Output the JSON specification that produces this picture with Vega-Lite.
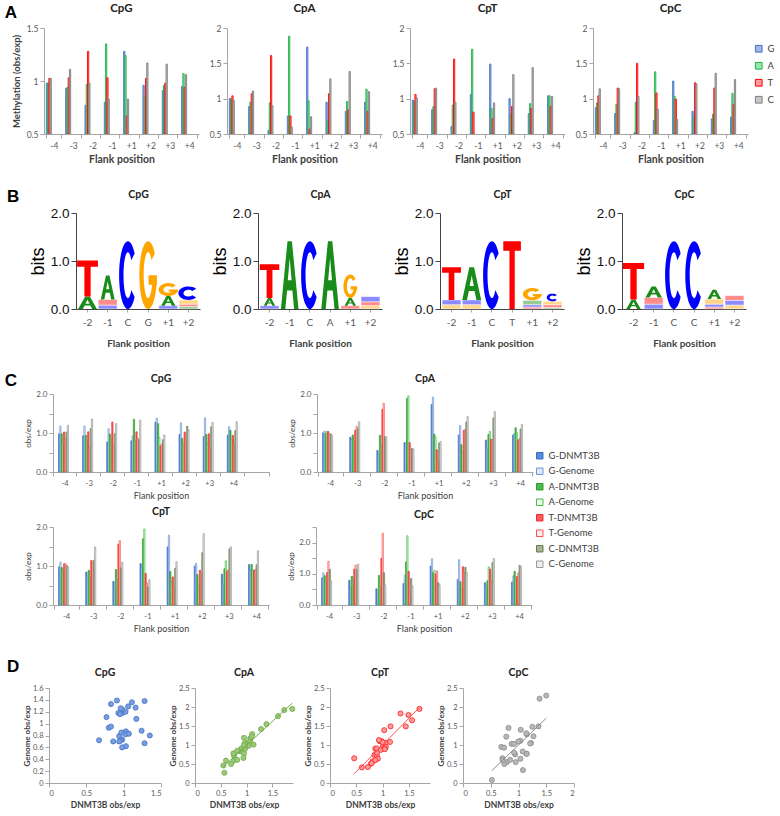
{
"$schema": "https://vega.github.io/schema/vega-lite/v6.json",
"background": "white",
"padding": {"left": 4, "top": 2, "right": 0, "bottom": 0},
"datasets": {
"flank": [
{"dn":"CpG","pos":"-4","base":"G","dnmt":0.98,"genome":1.18},{"dn":"CpG","pos":"-4","base":"A","dnmt":0.98,"genome":0.73},{"dn":"CpG","pos":"-4","base":"T","dnmt":1.025,"genome":0.85},{"dn":"CpG","pos":"-4","base":"C","dnmt":1.025,"genome":1.20},
{"dn":"CpG","pos":"-3","base":"G","dnmt":0.93,"genome":1.18},{"dn":"CpG","pos":"-3","base":"A","dnmt":0.94,"genome":0.79},{"dn":"CpG","pos":"-3","base":"T","dnmt":1.03,"genome":0.62},{"dn":"CpG","pos":"-3","base":"C","dnmt":1.11,"genome":1.36},
{"dn":"CpG","pos":"-2","base":"G","dnmt":0.77,"genome":1.11},{"dn":"CpG","pos":"-2","base":"A","dnmt":0.97,"genome":0.85},{"dn":"CpG","pos":"-2","base":"T","dnmt":1.28,"genome":0.67},{"dn":"CpG","pos":"-2","base":"C","dnmt":0.98,"genome":1.24},
{"dn":"CpG","pos":"-1","base":"G","dnmt":0.80,"genome":0.93},{"dn":"CpG","pos":"-1","base":"A","dnmt":1.35,"genome":0.80},{"dn":"CpG","pos":"-1","base":"T","dnmt":1.03,"genome":0.87},{"dn":"CpG","pos":"-1","base":"C","dnmt":0.83,"genome":1.33},
{"dn":"CpG","pos":"+1","base":"G","dnmt":1.28,"genome":1.38},{"dn":"CpG","pos":"+1","base":"A","dnmt":1.24,"genome":0.88},{"dn":"CpG","pos":"+1","base":"T","dnmt":0.67,"genome":0.72},{"dn":"CpG","pos":"+1","base":"C","dnmt":0.83,"genome":0.95},
{"dn":"CpG","pos":"+2","base":"G","dnmt":0.96,"genome":1.26},{"dn":"CpG","pos":"+2","base":"A","dnmt":0.86,"genome":0.70},{"dn":"CpG","pos":"+2","base":"T","dnmt":1.025,"genome":0.82},{"dn":"CpG","pos":"+2","base":"C","dnmt":1.17,"genome":1.08},
{"dn":"CpG","pos":"+3","base":"G","dnmt":0.91,"genome":1.39},{"dn":"CpG","pos":"+3","base":"A","dnmt":0.96,"genome":0.72},{"dn":"CpG","pos":"+3","base":"T","dnmt":0.98,"genome":0.60},{"dn":"CpG","pos":"+3","base":"C","dnmt":1.16,"genome":1.27},
{"dn":"CpG","pos":"+4","base":"G","dnmt":0.95,"genome":1.16},{"dn":"CpG","pos":"+4","base":"A","dnmt":1.07,"genome":0.83},{"dn":"CpG","pos":"+4","base":"T","dnmt":0.94,"genome":0.70},{"dn":"CpG","pos":"+4","base":"C","dnmt":1.06,"genome":1.29},
{"dn":"CpA","pos":"-4","base":"G","dnmt":1.005,"genome":1.05},{"dn":"CpA","pos":"-4","base":"A","dnmt":0.99,"genome":1.04},{"dn":"CpA","pos":"-4","base":"T","dnmt":1.04,"genome":0.98},{"dn":"CpA","pos":"-4","base":"C","dnmt":0.975,"genome":0.93},
{"dn":"CpA","pos":"-3","base":"G","dnmt":0.89,"genome":0.83},{"dn":"CpA","pos":"-3","base":"A","dnmt":0.95,"genome":0.78},{"dn":"CpA","pos":"-3","base":"T","dnmt":1.07,"genome":1.17},{"dn":"CpA","pos":"-3","base":"C","dnmt":1.11,"genome":1.29},
{"dn":"CpA","pos":"-2","base":"G","dnmt":0.55,"genome":0.46},{"dn":"CpA","pos":"-2","base":"A","dnmt":0.94,"genome":0.66},{"dn":"CpA","pos":"-2","base":"T","dnmt":1.61,"genome":1.76},{"dn":"CpA","pos":"-2","base":"C","dnmt":0.90,"genome":0.91},
{"dn":"CpA","pos":"-1","base":"G","dnmt":0.755,"genome":0.72},{"dn":"CpA","pos":"-1","base":"A","dnmt":1.885,"genome":1.95},{"dn":"CpA","pos":"-1","base":"T","dnmt":0.755,"genome":0.59},{"dn":"CpA","pos":"-1","base":"C","dnmt":0.60,"genome":0.59},
{"dn":"CpA","pos":"+1","base":"G","dnmt":1.73,"genome":1.92},{"dn":"CpA","pos":"+1","base":"A","dnmt":0.97,"genome":0.90},{"dn":"CpA","pos":"+1","base":"T","dnmt":0.57,"genome":0.27},{"dn":"CpA","pos":"+1","base":"C","dnmt":0.745,"genome":0.78},
{"dn":"CpA","pos":"+2","base":"G","dnmt":0.95,"genome":1.19},{"dn":"CpA","pos":"+2","base":"A","dnmt":0.70,"genome":0.50},{"dn":"CpA","pos":"+2","base":"T","dnmt":1.07,"genome":1.09},{"dn":"CpA","pos":"+2","base":"C","dnmt":1.28,"genome":1.42},
{"dn":"CpA","pos":"+3","base":"G","dnmt":0.82,"genome":0.61},{"dn":"CpA","pos":"+3","base":"A","dnmt":0.96,"genome":1.04},{"dn":"CpA","pos":"+3","base":"T","dnmt":0.84,"genome":0.84},{"dn":"CpA","pos":"+3","base":"C","dnmt":1.385,"genome":1.55},
{"dn":"CpA","pos":"+4","base":"G","dnmt":0.95,"genome":0.99},{"dn":"CpA","pos":"+4","base":"A","dnmt":1.135,"genome":1.01},{"dn":"CpA","pos":"+4","base":"T","dnmt":0.82,"genome":0.85},{"dn":"CpA","pos":"+4","base":"C","dnmt":1.10,"genome":1.22},
{"dn":"CpT","pos":"-4","base":"G","dnmt":0.98,"genome":1.10},{"dn":"CpT","pos":"-4","base":"A","dnmt":0.96,"genome":0.87},{"dn":"CpT","pos":"-4","base":"T","dnmt":1.06,"genome":1.06},{"dn":"CpT","pos":"-4","base":"C","dnmt":1.01,"genome":0.98},
{"dn":"CpT","pos":"-3","base":"G","dnmt":0.845,"genome":0.74},{"dn":"CpT","pos":"-3","base":"A","dnmt":0.89,"genome":0.73},{"dn":"CpT","pos":"-3","base":"T","dnmt":1.14,"genome":1.08},{"dn":"CpT","pos":"-3","base":"C","dnmt":1.15,"genome":1.49},
{"dn":"CpT","pos":"-2","base":"G","dnmt":0.605,"genome":0.41},{"dn":"CpT","pos":"-2","base":"A","dnmt":0.91,"genome":0.64},{"dn":"CpT","pos":"-2","base":"T","dnmt":1.56,"genome":1.65},{"dn":"CpT","pos":"-2","base":"C","dnmt":0.95,"genome":1.10},
{"dn":"CpT","pos":"-1","base":"G","dnmt":1.06,"genome":0.95},{"dn":"CpT","pos":"-1","base":"A","dnmt":1.70,"genome":1.95},{"dn":"CpT","pos":"-1","base":"T","dnmt":0.81,"genome":0.57},{"dn":"CpT","pos":"-1","base":"C","dnmt":0.46,"genome":0.65},
{"dn":"CpT","pos":"+1","base":"G","dnmt":1.49,"genome":1.79},{"dn":"CpT","pos":"+1","base":"A","dnmt":0.86,"genome":0.60},{"dn":"CpT","pos":"+1","base":"T","dnmt":0.72,"genome":0.42},{"dn":"CpT","pos":"+1","base":"C","dnmt":0.94,"genome":1.11},
{"dn":"CpT","pos":"+2","base":"G","dnmt":1.00,"genome":1.07},{"dn":"CpT","pos":"+2","base":"A","dnmt":0.78,"genome":0.51},{"dn":"CpT","pos":"+2","base":"T","dnmt":0.89,"genome":0.80},{"dn":"CpT","pos":"+2","base":"C","dnmt":1.34,"genome":1.83},
{"dn":"CpT","pos":"+3","base":"G","dnmt":0.79,"genome":0.52},{"dn":"CpT","pos":"+3","base":"A","dnmt":0.93,"genome":1.13},{"dn":"CpT","pos":"+3","base":"T","dnmt":0.86,"genome":0.905},{"dn":"CpT","pos":"+3","base":"C","dnmt":1.44,"genome":1.49},
{"dn":"CpT","pos":"+4","base":"G","dnmt":1.04,"genome":0.90},{"dn":"CpT","pos":"+4","base":"A","dnmt":1.04,"genome":0.89},{"dn":"CpT","pos":"+4","base":"T","dnmt":0.89,"genome":0.91},{"dn":"CpT","pos":"+4","base":"C","dnmt":1.03,"genome":1.39},
{"dn":"CpC","pos":"-4","base":"G","dnmt":0.875,"genome":1.03},{"dn":"CpC","pos":"-4","base":"A","dnmt":0.94,"genome":0.75},{"dn":"CpC","pos":"-4","base":"T","dnmt":1.04,"genome":1.40},{"dn":"CpC","pos":"-4","base":"C","dnmt":1.14,"genome":0.77},
{"dn":"CpC","pos":"-3","base":"G","dnmt":0.79,"genome":0.55},{"dn":"CpC","pos":"-3","base":"A","dnmt":0.92,"genome":0.80},{"dn":"CpC","pos":"-3","base":"T","dnmt":1.15,"genome":1.28},{"dn":"CpC","pos":"-3","base":"C","dnmt":1.14,"genome":1.31},
{"dn":"CpC","pos":"-2","base":"G","dnmt":0.52,"genome":0.08},{"dn":"CpC","pos":"-2","base":"A","dnmt":0.95,"genome":0.55},{"dn":"CpC","pos":"-2","base":"T","dnmt":1.50,"genome":2.30},{"dn":"CpC","pos":"-2","base":"C","dnmt":1.035,"genome":0.64},
{"dn":"CpC","pos":"-1","base":"G","dnmt":0.69,"genome":0.95},{"dn":"CpC","pos":"-1","base":"A","dnmt":1.38,"genome":2.22},{"dn":"CpC","pos":"-1","base":"T","dnmt":1.08,"genome":0.34},{"dn":"CpC","pos":"-1","base":"C","dnmt":0.85,"genome":0.61},
{"dn":"CpC","pos":"+1","base":"G","dnmt":1.25,"genome":1.48},{"dn":"CpC","pos":"+1","base":"A","dnmt":1.035,"genome":1.11},{"dn":"CpC","pos":"+1","base":"T","dnmt":0.995,"genome":1.09},{"dn":"CpC","pos":"+1","base":"C","dnmt":0.71,"genome":0.65},
{"dn":"CpC","pos":"+2","base":"G","dnmt":0.82,"genome":1.45},{"dn":"CpC","pos":"+2","base":"A","dnmt":0.745,"genome":0.50},{"dn":"CpC","pos":"+2","base":"T","dnmt":1.225,"genome":1.05},{"dn":"CpC","pos":"+2","base":"C","dnmt":1.21,"genome":1.04},
{"dn":"CpC","pos":"+3","base":"G","dnmt":0.715,"genome":0.60},{"dn":"CpC","pos":"+3","base":"A","dnmt":0.78,"genome":1.22},{"dn":"CpC","pos":"+3","base":"T","dnmt":1.15,"genome":0.77},{"dn":"CpC","pos":"+3","base":"C","dnmt":1.36,"genome":1.49},
{"dn":"CpC","pos":"+4","base":"G","dnmt":0.74,"genome":0.93},{"dn":"CpC","pos":"+4","base":"A","dnmt":1.075,"genome":0.83},{"dn":"CpC","pos":"+4","base":"T","dnmt":0.92,"genome":1.03},{"dn":"CpC","pos":"+4","base":"C","dnmt":1.27,"genome":1.23}
],
"logo": [
{"dn":"CpG","col":1,"letter":"A","bits":0.26},{"dn":"CpG","col":1,"letter":"T","bits":0.75},
{"dn":"CpG","col":2,"letter":"C","bits":0.08},{"dn":"CpG","col":2,"letter":"T","bits":0.12},{"dn":"CpG","col":2,"letter":"A","bits":0.5},
{"dn":"CpG","col":3,"letter":"C","bits":1.41},{"dn":"CpG","col":4,"letter":"G","bits":1.41},
{"dn":"CpG","col":5,"letter":"C","bits":0.07},{"dn":"CpG","col":5,"letter":"A","bits":0.2},{"dn":"CpG","col":5,"letter":"G","bits":0.27},
{"dn":"CpG","col":6,"letter":"T","bits":0.05},{"dn":"CpG","col":6,"letter":"A","bits":0.05},{"dn":"CpG","col":6,"letter":"G","bits":0.09},{"dn":"CpG","col":6,"letter":"C","bits":0.28},
{"dn":"CpA","col":1,"letter":"C","bits":0.07},{"dn":"CpA","col":1,"letter":"A","bits":0.16},{"dn":"CpA","col":1,"letter":"T","bits":0.7},
{"dn":"CpA","col":2,"letter":"A","bits":1.41},{"dn":"CpA","col":3,"letter":"C","bits":1.41},{"dn":"CpA","col":4,"letter":"A","bits":1.41},
{"dn":"CpA","col":5,"letter":"T","bits":0.07},{"dn":"CpA","col":5,"letter":"A","bits":0.16},{"dn":"CpA","col":5,"letter":"G","bits":0.49},
{"dn":"CpA","col":6,"letter":"G","bits":0.07},{"dn":"CpA","col":6,"letter":"T","bits":0.08},{"dn":"CpA","col":6,"letter":"C","bits":0.11},
{"dn":"CpT","col":1,"letter":"G","bits":0.09},{"dn":"CpT","col":1,"letter":"C","bits":0.1},{"dn":"CpT","col":1,"letter":"T","bits":0.68},
{"dn":"CpT","col":2,"letter":"G","bits":0.09},{"dn":"CpT","col":2,"letter":"C","bits":0.1},{"dn":"CpT","col":2,"letter":"A","bits":0.68},
{"dn":"CpT","col":3,"letter":"C","bits":1.41},{"dn":"CpT","col":4,"letter":"T","bits":1.41},
{"dn":"CpT","col":5,"letter":"T","bits":0.04},{"dn":"CpT","col":5,"letter":"C","bits":0.05},{"dn":"CpT","col":5,"letter":"A","bits":0.09},{"dn":"CpT","col":5,"letter":"G","bits":0.26},
{"dn":"CpT","col":6,"letter":"A","bits":0.03},{"dn":"CpT","col":6,"letter":"T","bits":0.06},{"dn":"CpT","col":6,"letter":"G","bits":0.07},{"dn":"CpT","col":6,"letter":"C","bits":0.16},
{"dn":"CpC","col":1,"letter":"A","bits":0.2},{"dn":"CpC","col":1,"letter":"T","bits":0.76},
{"dn":"CpC","col":2,"letter":"C","bits":0.1},{"dn":"CpC","col":2,"letter":"T","bits":0.14},{"dn":"CpC","col":2,"letter":"A","bits":0.23},
{"dn":"CpC","col":3,"letter":"C","bits":1.41},{"dn":"CpC","col":4,"letter":"C","bits":1.41},
{"dn":"CpC","col":5,"letter":"T","bits":0.04},{"dn":"CpC","col":5,"letter":"C","bits":0.06},{"dn":"CpC","col":5,"letter":"G","bits":0.11},{"dn":"CpC","col":5,"letter":"A","bits":0.19},
{"dn":"CpC","col":6,"letter":"G","bits":0.08},{"dn":"CpC","col":6,"letter":"C","bits":0.1},{"dn":"CpC","col":6,"letter":"T","bits":0.1}
],
"blank": [{"s": 1}]
},
"config": {
"font": "Lato",
"view": {"stroke": null},
"axis": {"grid": false, "domainColor": "#a6a6a6", "tickColor": "#a6a6a6", "labelColor": "#595959", "titleColor": "#404040", "labelFontSize": 8, "titleFontSize": 9, "tickSize": 4, "labelPadding": 2, "titlePadding": 4, "labelFont": "Lato", "titleFont": "Lato"},
"title": {"fontSize": 11, "fontWeight": "bold", "color": "#222222", "offset": 6, "font": "Lato"},
"legend": {"labelFont": "Lato", "labelFontSize": 9, "labelColor": "#404040"}
},
"spacing": 23,
"resolve": {"scale": {"fill": "independent", "stroke": "independent", "shape": "independent", "size": "independent"}},
"vconcat": [
{
"data": {"name": "flank"},
"title": {"text": "A", "anchor": "start", "frame": "bounds", "fontSize": 17, "font": "Liberation Sans", "fontWeight": "bold", "color": "#000000", "offset": -19},
"spacing": 0,
"hconcat": [
{"width": 1, "height": 10, "data": {"name": "blank"}, "mark": {"type": "point", "opacity": 0}, "encoding": {}},
{"spacing": 10, "hconcat": [
{"width": 155, "height": 106, "title": {"text": "CpG", "fontSize": 11.5, "offset": 10},
"transform": [{"filter": "datum.dn === 'CpG'"}],
"mark": {"type": "bar", "clip": true, "strokeWidth": 0.9},
"encoding": {
"x": {"field": "pos", "type": "nominal", "scale": {"domain": ["-4","-3","-2","-1","+1","+2","+3","+4"], "paddingInner": 0.22, "paddingOuter": 0.12}, "axis": {"title": "Flank position", "labelAngle": 0, "tickBand": "extent", "labelFontSize": 8.5, "titleFontSize": 10.5, "titleFontWeight": "bold", "titlePadding": 5, "labelPadding": 3}},
"xOffset": {"field": "base", "type": "nominal", "scale": {"domain": ["G","A","T","C"], "paddingInner": 0}},
"y": {"field": "dnmt", "type": "quantitative", "scale": {"domain": [0.5, 1.5], "nice": false, "zero": false}, "axis": {"values": [0.5, 1, 1.5], "format": "~g", "title": "Methylation (obs/exp)", "titleFontSize": 9.5, "titleFontWeight": "bold", "titlePadding": 5, "labelFontSize": 8.5}},
"y2": {"datum": 0.5},
"fill": {"field": "base", "type": "nominal", "scale": {"domain": ["G","A","T","C"], "range": ["#9db8e8","#9be6ad","#ff9c9c","#c8c8c8"]}, "legend": {"title": " ", "titleFontSize": 8, "titlePadding": 8, "symbolType": "square", "symbolSize": 45, "labelFontSize": 9.5, "rowPadding": 5, "offset": 6, "symbolStrokeWidth": 1}},
"stroke": {"field": "base", "type": "nominal", "scale": {"domain": ["G","A","T","C"], "range": ["#4472c4","#1fb04a","#ff0000","#7f7f7f"]}, "legend": {"title": " ", "titleFontSize": 8, "titlePadding": 8, "symbolType": "square", "symbolSize": 45, "labelFontSize": 9.5, "rowPadding": 5, "offset": 6, "symbolStrokeWidth": 1}}
}},
{"width": 155, "height": 106, "title": {"text": "CpA", "fontSize": 11.5, "offset": 10},
"transform": [{"filter": "datum.dn === 'CpA'"}],
"mark": {"type": "bar", "clip": true, "strokeWidth": 0.9},
"encoding": {
"x": {"field": "pos", "type": "nominal", "scale": {"domain": ["-4","-3","-2","-1","+1","+2","+3","+4"], "paddingInner": 0.22, "paddingOuter": 0.12}, "axis": {"title": "Flank position", "labelAngle": 0, "tickBand": "extent", "labelFontSize": 8.5, "titleFontSize": 10.5, "titleFontWeight": "bold", "titlePadding": 5, "labelPadding": 3}},
"xOffset": {"field": "base", "type": "nominal", "scale": {"domain": ["G","A","T","C"], "paddingInner": 0}},
"y": {"field": "dnmt", "type": "quantitative", "scale": {"domain": [0.5, 2], "nice": false, "zero": false}, "axis": {"values": [0.5, 1, 1.5, 2], "format": "~g", "title": null, "labelFontSize": 8.5}},
"y2": {"datum": 0.5},
"fill": {"field": "base", "type": "nominal", "scale": {"domain": ["G","A","T","C"], "range": ["#9db8e8","#9be6ad","#ff9c9c","#c8c8c8"]}, "legend": {"title": " ", "titleFontSize": 8, "titlePadding": 8, "symbolType": "square", "symbolSize": 45, "labelFontSize": 9.5, "rowPadding": 5, "offset": 6, "symbolStrokeWidth": 1}},
"stroke": {"field": "base", "type": "nominal", "scale": {"domain": ["G","A","T","C"], "range": ["#4472c4","#1fb04a","#ff0000","#7f7f7f"]}, "legend": {"title": " ", "titleFontSize": 8, "titlePadding": 8, "symbolType": "square", "symbolSize": 45, "labelFontSize": 9.5, "rowPadding": 5, "offset": 6, "symbolStrokeWidth": 1}}
}},
{"width": 155, "height": 106, "title": {"text": "CpT", "fontSize": 11.5, "offset": 10},
"transform": [{"filter": "datum.dn === 'CpT'"}],
"mark": {"type": "bar", "clip": true, "strokeWidth": 0.9},
"encoding": {
"x": {"field": "pos", "type": "nominal", "scale": {"domain": ["-4","-3","-2","-1","+1","+2","+3","+4"], "paddingInner": 0.22, "paddingOuter": 0.12}, "axis": {"title": "Flank position", "labelAngle": 0, "tickBand": "extent", "labelFontSize": 8.5, "titleFontSize": 10.5, "titleFontWeight": "bold", "titlePadding": 5, "labelPadding": 3}},
"xOffset": {"field": "base", "type": "nominal", "scale": {"domain": ["G","A","T","C"], "paddingInner": 0}},
"y": {"field": "dnmt", "type": "quantitative", "scale": {"domain": [0.5, 2], "nice": false, "zero": false}, "axis": {"values": [0.5, 1, 1.5, 2], "format": "~g", "title": null, "labelFontSize": 8.5}},
"y2": {"datum": 0.5},
"fill": {"field": "base", "type": "nominal", "scale": {"domain": ["G","A","T","C"], "range": ["#9db8e8","#9be6ad","#ff9c9c","#c8c8c8"]}, "legend": {"title": " ", "titleFontSize": 8, "titlePadding": 8, "symbolType": "square", "symbolSize": 45, "labelFontSize": 9.5, "rowPadding": 5, "offset": 6, "symbolStrokeWidth": 1}},
"stroke": {"field": "base", "type": "nominal", "scale": {"domain": ["G","A","T","C"], "range": ["#4472c4","#1fb04a","#ff0000","#7f7f7f"]}, "legend": {"title": " ", "titleFontSize": 8, "titlePadding": 8, "symbolType": "square", "symbolSize": 45, "labelFontSize": 9.5, "rowPadding": 5, "offset": 6, "symbolStrokeWidth": 1}}
}},
{"width": 155, "height": 106, "title": {"text": "CpC", "fontSize": 11.5, "offset": 10},
"transform": [{"filter": "datum.dn === 'CpC'"}],
"mark": {"type": "bar", "clip": true, "strokeWidth": 0.9},
"encoding": {
"x": {"field": "pos", "type": "nominal", "scale": {"domain": ["-4","-3","-2","-1","+1","+2","+3","+4"], "paddingInner": 0.22, "paddingOuter": 0.12}, "axis": {"title": "Flank position", "labelAngle": 0, "tickBand": "extent", "labelFontSize": 8.5, "titleFontSize": 10.5, "titleFontWeight": "bold", "titlePadding": 5, "labelPadding": 3}},
"xOffset": {"field": "base", "type": "nominal", "scale": {"domain": ["G","A","T","C"], "paddingInner": 0}},
"y": {"field": "dnmt", "type": "quantitative", "scale": {"domain": [0.5, 2], "nice": false, "zero": false}, "axis": {"values": [0.5, 1, 1.5, 2], "format": "~g", "title": null, "labelFontSize": 8.5}},
"y2": {"datum": 0.5},
"fill": {"field": "base", "type": "nominal", "scale": {"domain": ["G","A","T","C"], "range": ["#9db8e8","#9be6ad","#ff9c9c","#c8c8c8"]}, "legend": {"title": " ", "titleFontSize": 8, "titlePadding": 8, "symbolType": "square", "symbolSize": 45, "labelFontSize": 9.5, "rowPadding": 5, "offset": 6, "symbolStrokeWidth": 1}},
"stroke": {"field": "base", "type": "nominal", "scale": {"domain": ["G","A","T","C"], "range": ["#4472c4","#1fb04a","#ff0000","#7f7f7f"]}, "legend": {"title": " ", "titleFontSize": 8, "titlePadding": 8, "symbolType": "square", "symbolSize": 45, "labelFontSize": 9.5, "rowPadding": 5, "offset": 6, "symbolStrokeWidth": 1}}
}}
]}
]
},
{
"data": {"name": "logo"},
"title": {"text": "B", "anchor": "start", "frame": "bounds", "fontSize": 17, "font": "Liberation Sans", "fontWeight": "bold", "color": "#000000", "offset": -17},
"spacing": 11,
"hconcat": [
{"width": 11, "height": 10, "data": {"name": "blank"}, "mark": {"type": "point", "opacity": 0}, "encoding": {}},
{"width": 124, "height": 96,
"transform": [{"filter": "datum.dn === 'CpG'"}, {"stack": "bits", "groupby": ["col"], "sort": [{"field": "bits", "order": "ascending"}, {"field": "letter", "order": "ascending"}], "as": ["b0", "b1"]}, {"calculate": "(datum.b0 + datum.b1) / 2", "as": "mid"}, {"calculate": "datum.letter + (datum.bits >= 1 ? 'T' : (datum.bits >= 0.4 ? 'M' : 'L'))", "as": "glyph"}],
"resolve": {"axis": {"x": "independent"}},
"encoding": {"x": {"field": "col", "type": "ordinal", "scale": {"domain": [1,2,3,4,5,6], "paddingInner": 0.06, "paddingOuter": 0.1}, "axis": {"title": "Flank position", "titleFontSize": 10, "titleFontWeight": "bold", "titlePadding": 11, "labelAngle": 0, "labelFontSize": 10, "labelPadding": 5, "domainColor": "#444444", "tickColor": "#aaaaaa", "tickSize": 3, "labelExpr": "['-2','-1','C','G','+1','+2'][datum.value - 1]"}}},
"layer": [
{"transform": [{"filter": "datum.bits < 0.15"}], "mark": {"type": "bar", "opacity": 0.45, "stroke": "white", "strokeWidth": 0.6},
"encoding": {"y": {"field": "b0", "type": "quantitative", "scale": {"domain": [0, 2], "nice": false}, "axis": {"title": "bits", "titleFont": "Liberation Sans", "titleFontSize": 18, "titleFontWeight": "normal", "titleColor": "#000000", "titlePadding": 3, "values": [0, 1, 2], "format": ".1f", "labelFont": "Liberation Sans", "labelFontSize": 13.5, "labelColor": "#111111", "domainColor": "#444444", "tickColor": "#444444", "tickSize": 5}}, "y2": {"field": "b1"},
"fill": {"field": "letter", "type": "nominal", "scale": {"domain": ["A","C","G","T"], "range": ["#1a8c1a","#0000ff","#ffa500","#ff0000"]}, "legend": null}}},
{"transform": [{"filter": "datum.bits >= 0.15"}], "mark": {"type": "point", "filled": true, "opacity": 1, "strokeWidth": 0},
"encoding": {"x": {"field": "col", "type": "ordinal", "axis": {"orient": "top", "title": "CpG", "labels": false, "ticks": false, "domain": false, "titleFont": "Lato", "titleFontSize": 10.5, "titleFontWeight": "bold", "titleColor": "#222222", "titlePadding": 14}},
"y": {"field": "mid", "type": "quantitative", "scale": {"domain": [0, 2], "nice": false}, "axis": {"title": "bits", "titleFont": "Liberation Sans", "titleFontSize": 18, "titleFontWeight": "normal", "titleColor": "#000000", "titlePadding": 3, "values": [0, 1, 2], "format": ".1f", "labelFont": "Liberation Sans", "labelFontSize": 13.5, "labelColor": "#111111", "domainColor": "#444444", "tickColor": "#444444", "tickSize": 5}},
"fill": {"field": "letter", "type": "nominal", "scale": {"domain": ["A","C","G","T"], "range": ["#1a8c1a","#0000ff","#ffa500","#ff0000"]}, "legend": null},
"size": {"field": "bits", "type": "quantitative", "scale": {"type": "pow", "exponent": 2, "domain": [0, 2], "range": [0, 9216]}, "legend": null},
"shape": {"field": "glyph", "type": "nominal", "legend": null, "scale": {"domain": ["AT","CT","GT","TT","AM","CM","GM","TM","AL","CL","GL","TL"], "range": ["M-0.26,1 L-0.065,-1 L0.065,-1 L0.26,1 L0.13,1 L0.078,0.45 L-0.078,0.45 L-0.13,1 Z M0.057,0.15 L0,-0.5 L-0.057,0.15 Z", "M0.199,-0.643 A0.26 1 0 1 0 0.199,0.643 L0.1,0.437 A0.13 0.68 0 1 1 0.1,-0.437 Z", "M0.199,-0.643 A0.26 1 0 1 0 0.26,0 L0.13,0 A0.13 0.68 0 1 1 0.1,-0.437 Z M0.013,0 L0.013,0.28 L0.26,0.28 L0.26,0 Z", "M-0.26,-1 L0.26,-1 L0.26,-0.72 L0.078,-0.72 L0.078,1 L-0.078,1 L-0.078,-0.72 L-0.26,-0.72 Z", "M-0.58,1 L-0.145,-1 L0.145,-1 L0.58,1 L0.29,1 L0.174,0.45 L-0.174,0.45 L-0.29,1 Z M0.128,0.15 L0,-0.5 L-0.128,0.15 Z", "M0.444,-0.643 A0.58 1 0 1 0 0.444,0.643 L0.222,0.437 A0.29 0.68 0 1 1 0.222,-0.437 Z", "M0.444,-0.643 A0.58 1 0 1 0 0.58,0 L0.29,0 A0.29 0.68 0 1 1 0.222,-0.437 Z M0.029,0 L0.029,0.28 L0.58,0.28 L0.58,0 Z", "M-0.58,-1 L0.58,-1 L0.58,-0.66 L0.174,-0.66 L0.174,1 L-0.174,1 L-0.174,-0.66 L-0.58,-0.66 Z", "M-1.5,1 L-0.375,-1 L0.375,-1 L1.5,1 L0.75,1 L0.45,0.45 L-0.45,0.45 L-0.75,1 Z M0.33,0.15 L0,-0.5 L-0.33,0.15 Z", "M1.149,-0.643 A1.5 1 0 1 0 1.149,0.643 L0.575,0.321 A0.75 0.5 0 1 1 0.575,-0.321 Z", "M1.149,-0.643 A1.5 1 0 1 0 1.5,0 L0.75,0 A0.75 0.5 0 1 1 0.575,-0.321 Z M0.075,0 L0.075,0.35 L1.5,0.35 L1.5,0 Z", "M-1.5,-1 L1.5,-1 L1.5,-0.4 L0.45,-0.4 L0.45,1 L-0.45,1 L-0.45,-0.4 L-1.5,-0.4 Z"]}}}}
]},
{"width": 124, "height": 96,
"transform": [{"filter": "datum.dn === 'CpA'"}, {"stack": "bits", "groupby": ["col"], "sort": [{"field": "bits", "order": "ascending"}, {"field": "letter", "order": "ascending"}], "as": ["b0", "b1"]}, {"calculate": "(datum.b0 + datum.b1) / 2", "as": "mid"}, {"calculate": "datum.letter + (datum.bits >= 1 ? 'T' : (datum.bits >= 0.4 ? 'M' : 'L'))", "as": "glyph"}],
"resolve": {"axis": {"x": "independent"}},
"encoding": {"x": {"field": "col", "type": "ordinal", "scale": {"domain": [1,2,3,4,5,6], "paddingInner": 0.06, "paddingOuter": 0.1}, "axis": {"title": "Flank position", "titleFontSize": 10, "titleFontWeight": "bold", "titlePadding": 11, "labelAngle": 0, "labelFontSize": 10, "labelPadding": 5, "domainColor": "#444444", "tickColor": "#aaaaaa", "tickSize": 3, "labelExpr": "['-2','-1','C','A','+1','+2'][datum.value - 1]"}}},
"layer": [
{"transform": [{"filter": "datum.bits < 0.15"}], "mark": {"type": "bar", "opacity": 0.45, "stroke": "white", "strokeWidth": 0.6},
"encoding": {"y": {"field": "b0", "type": "quantitative", "scale": {"domain": [0, 2], "nice": false}, "axis": {"title": "bits", "titleFont": "Liberation Sans", "titleFontSize": 18, "titleFontWeight": "normal", "titleColor": "#000000", "titlePadding": 3, "values": [0, 1, 2], "format": ".1f", "labelFont": "Liberation Sans", "labelFontSize": 13.5, "labelColor": "#111111", "domainColor": "#444444", "tickColor": "#444444", "tickSize": 5}}, "y2": {"field": "b1"},
"fill": {"field": "letter", "type": "nominal", "scale": {"domain": ["A","C","G","T"], "range": ["#1a8c1a","#0000ff","#ffa500","#ff0000"]}, "legend": null}}},
{"transform": [{"filter": "datum.bits >= 0.15"}], "mark": {"type": "point", "filled": true, "opacity": 1, "strokeWidth": 0},
"encoding": {"x": {"field": "col", "type": "ordinal", "axis": {"orient": "top", "title": "CpA", "labels": false, "ticks": false, "domain": false, "titleFont": "Lato", "titleFontSize": 10.5, "titleFontWeight": "bold", "titleColor": "#222222", "titlePadding": 14}},
"y": {"field": "mid", "type": "quantitative", "scale": {"domain": [0, 2], "nice": false}, "axis": {"title": "bits", "titleFont": "Liberation Sans", "titleFontSize": 18, "titleFontWeight": "normal", "titleColor": "#000000", "titlePadding": 3, "values": [0, 1, 2], "format": ".1f", "labelFont": "Liberation Sans", "labelFontSize": 13.5, "labelColor": "#111111", "domainColor": "#444444", "tickColor": "#444444", "tickSize": 5}},
"fill": {"field": "letter", "type": "nominal", "scale": {"domain": ["A","C","G","T"], "range": ["#1a8c1a","#0000ff","#ffa500","#ff0000"]}, "legend": null},
"size": {"field": "bits", "type": "quantitative", "scale": {"type": "pow", "exponent": 2, "domain": [0, 2], "range": [0, 9216]}, "legend": null},
"shape": {"field": "glyph", "type": "nominal", "legend": null, "scale": {"domain": ["AT","CT","GT","TT","AM","CM","GM","TM","AL","CL","GL","TL"], "range": ["M-0.26,1 L-0.065,-1 L0.065,-1 L0.26,1 L0.13,1 L0.078,0.45 L-0.078,0.45 L-0.13,1 Z M0.057,0.15 L0,-0.5 L-0.057,0.15 Z", "M0.199,-0.643 A0.26 1 0 1 0 0.199,0.643 L0.1,0.437 A0.13 0.68 0 1 1 0.1,-0.437 Z", "M0.199,-0.643 A0.26 1 0 1 0 0.26,0 L0.13,0 A0.13 0.68 0 1 1 0.1,-0.437 Z M0.013,0 L0.013,0.28 L0.26,0.28 L0.26,0 Z", "M-0.26,-1 L0.26,-1 L0.26,-0.72 L0.078,-0.72 L0.078,1 L-0.078,1 L-0.078,-0.72 L-0.26,-0.72 Z", "M-0.58,1 L-0.145,-1 L0.145,-1 L0.58,1 L0.29,1 L0.174,0.45 L-0.174,0.45 L-0.29,1 Z M0.128,0.15 L0,-0.5 L-0.128,0.15 Z", "M0.444,-0.643 A0.58 1 0 1 0 0.444,0.643 L0.222,0.437 A0.29 0.68 0 1 1 0.222,-0.437 Z", "M0.444,-0.643 A0.58 1 0 1 0 0.58,0 L0.29,0 A0.29 0.68 0 1 1 0.222,-0.437 Z M0.029,0 L0.029,0.28 L0.58,0.28 L0.58,0 Z", "M-0.58,-1 L0.58,-1 L0.58,-0.66 L0.174,-0.66 L0.174,1 L-0.174,1 L-0.174,-0.66 L-0.58,-0.66 Z", "M-1.5,1 L-0.375,-1 L0.375,-1 L1.5,1 L0.75,1 L0.45,0.45 L-0.45,0.45 L-0.75,1 Z M0.33,0.15 L0,-0.5 L-0.33,0.15 Z", "M1.149,-0.643 A1.5 1 0 1 0 1.149,0.643 L0.575,0.321 A0.75 0.5 0 1 1 0.575,-0.321 Z", "M1.149,-0.643 A1.5 1 0 1 0 1.5,0 L0.75,0 A0.75 0.5 0 1 1 0.575,-0.321 Z M0.075,0 L0.075,0.35 L1.5,0.35 L1.5,0 Z", "M-1.5,-1 L1.5,-1 L1.5,-0.4 L0.45,-0.4 L0.45,1 L-0.45,1 L-0.45,-0.4 L-1.5,-0.4 Z"]}}}}
]},
{"width": 124, "height": 96,
"transform": [{"filter": "datum.dn === 'CpT'"}, {"stack": "bits", "groupby": ["col"], "sort": [{"field": "bits", "order": "ascending"}, {"field": "letter", "order": "ascending"}], "as": ["b0", "b1"]}, {"calculate": "(datum.b0 + datum.b1) / 2", "as": "mid"}, {"calculate": "datum.letter + (datum.bits >= 1 ? 'T' : (datum.bits >= 0.4 ? 'M' : 'L'))", "as": "glyph"}],
"resolve": {"axis": {"x": "independent"}},
"encoding": {"x": {"field": "col", "type": "ordinal", "scale": {"domain": [1,2,3,4,5,6], "paddingInner": 0.06, "paddingOuter": 0.1}, "axis": {"title": "Flank position", "titleFontSize": 10, "titleFontWeight": "bold", "titlePadding": 11, "labelAngle": 0, "labelFontSize": 10, "labelPadding": 5, "domainColor": "#444444", "tickColor": "#aaaaaa", "tickSize": 3, "labelExpr": "['-2','-1','C','T','+1','+2'][datum.value - 1]"}}},
"layer": [
{"transform": [{"filter": "datum.bits < 0.15"}], "mark": {"type": "bar", "opacity": 0.45, "stroke": "white", "strokeWidth": 0.6},
"encoding": {"y": {"field": "b0", "type": "quantitative", "scale": {"domain": [0, 2], "nice": false}, "axis": {"title": "bits", "titleFont": "Liberation Sans", "titleFontSize": 18, "titleFontWeight": "normal", "titleColor": "#000000", "titlePadding": 3, "values": [0, 1, 2], "format": ".1f", "labelFont": "Liberation Sans", "labelFontSize": 13.5, "labelColor": "#111111", "domainColor": "#444444", "tickColor": "#444444", "tickSize": 5}}, "y2": {"field": "b1"},
"fill": {"field": "letter", "type": "nominal", "scale": {"domain": ["A","C","G","T"], "range": ["#1a8c1a","#0000ff","#ffa500","#ff0000"]}, "legend": null}}},
{"transform": [{"filter": "datum.bits >= 0.15"}], "mark": {"type": "point", "filled": true, "opacity": 1, "strokeWidth": 0},
"encoding": {"x": {"field": "col", "type": "ordinal", "axis": {"orient": "top", "title": "CpT", "labels": false, "ticks": false, "domain": false, "titleFont": "Lato", "titleFontSize": 10.5, "titleFontWeight": "bold", "titleColor": "#222222", "titlePadding": 14}},
"y": {"field": "mid", "type": "quantitative", "scale": {"domain": [0, 2], "nice": false}, "axis": {"title": "bits", "titleFont": "Liberation Sans", "titleFontSize": 18, "titleFontWeight": "normal", "titleColor": "#000000", "titlePadding": 3, "values": [0, 1, 2], "format": ".1f", "labelFont": "Liberation Sans", "labelFontSize": 13.5, "labelColor": "#111111", "domainColor": "#444444", "tickColor": "#444444", "tickSize": 5}},
"fill": {"field": "letter", "type": "nominal", "scale": {"domain": ["A","C","G","T"], "range": ["#1a8c1a","#0000ff","#ffa500","#ff0000"]}, "legend": null},
"size": {"field": "bits", "type": "quantitative", "scale": {"type": "pow", "exponent": 2, "domain": [0, 2], "range": [0, 9216]}, "legend": null},
"shape": {"field": "glyph", "type": "nominal", "legend": null, "scale": {"domain": ["AT","CT","GT","TT","AM","CM","GM","TM","AL","CL","GL","TL"], "range": ["M-0.26,1 L-0.065,-1 L0.065,-1 L0.26,1 L0.13,1 L0.078,0.45 L-0.078,0.45 L-0.13,1 Z M0.057,0.15 L0,-0.5 L-0.057,0.15 Z", "M0.199,-0.643 A0.26 1 0 1 0 0.199,0.643 L0.1,0.437 A0.13 0.68 0 1 1 0.1,-0.437 Z", "M0.199,-0.643 A0.26 1 0 1 0 0.26,0 L0.13,0 A0.13 0.68 0 1 1 0.1,-0.437 Z M0.013,0 L0.013,0.28 L0.26,0.28 L0.26,0 Z", "M-0.26,-1 L0.26,-1 L0.26,-0.72 L0.078,-0.72 L0.078,1 L-0.078,1 L-0.078,-0.72 L-0.26,-0.72 Z", "M-0.58,1 L-0.145,-1 L0.145,-1 L0.58,1 L0.29,1 L0.174,0.45 L-0.174,0.45 L-0.29,1 Z M0.128,0.15 L0,-0.5 L-0.128,0.15 Z", "M0.444,-0.643 A0.58 1 0 1 0 0.444,0.643 L0.222,0.437 A0.29 0.68 0 1 1 0.222,-0.437 Z", "M0.444,-0.643 A0.58 1 0 1 0 0.58,0 L0.29,0 A0.29 0.68 0 1 1 0.222,-0.437 Z M0.029,0 L0.029,0.28 L0.58,0.28 L0.58,0 Z", "M-0.58,-1 L0.58,-1 L0.58,-0.66 L0.174,-0.66 L0.174,1 L-0.174,1 L-0.174,-0.66 L-0.58,-0.66 Z", "M-1.5,1 L-0.375,-1 L0.375,-1 L1.5,1 L0.75,1 L0.45,0.45 L-0.45,0.45 L-0.75,1 Z M0.33,0.15 L0,-0.5 L-0.33,0.15 Z", "M1.149,-0.643 A1.5 1 0 1 0 1.149,0.643 L0.575,0.321 A0.75 0.5 0 1 1 0.575,-0.321 Z", "M1.149,-0.643 A1.5 1 0 1 0 1.5,0 L0.75,0 A0.75 0.5 0 1 1 0.575,-0.321 Z M0.075,0 L0.075,0.35 L1.5,0.35 L1.5,0 Z", "M-1.5,-1 L1.5,-1 L1.5,-0.4 L0.45,-0.4 L0.45,1 L-0.45,1 L-0.45,-0.4 L-1.5,-0.4 Z"]}}}}
]},
{"width": 124, "height": 96,
"transform": [{"filter": "datum.dn === 'CpC'"}, {"stack": "bits", "groupby": ["col"], "sort": [{"field": "bits", "order": "ascending"}, {"field": "letter", "order": "ascending"}], "as": ["b0", "b1"]}, {"calculate": "(datum.b0 + datum.b1) / 2", "as": "mid"}, {"calculate": "datum.letter + (datum.bits >= 1 ? 'T' : (datum.bits >= 0.4 ? 'M' : 'L'))", "as": "glyph"}],
"resolve": {"axis": {"x": "independent"}},
"encoding": {"x": {"field": "col", "type": "ordinal", "scale": {"domain": [1,2,3,4,5,6], "paddingInner": 0.06, "paddingOuter": 0.1}, "axis": {"title": "Flank position", "titleFontSize": 10, "titleFontWeight": "bold", "titlePadding": 11, "labelAngle": 0, "labelFontSize": 10, "labelPadding": 5, "domainColor": "#444444", "tickColor": "#aaaaaa", "tickSize": 3, "labelExpr": "['-2','-1','C','C','+1','+2'][datum.value - 1]"}}},
"layer": [
{"transform": [{"filter": "datum.bits < 0.15"}], "mark": {"type": "bar", "opacity": 0.45, "stroke": "white", "strokeWidth": 0.6},
"encoding": {"y": {"field": "b0", "type": "quantitative", "scale": {"domain": [0, 2], "nice": false}, "axis": {"title": "bits", "titleFont": "Liberation Sans", "titleFontSize": 18, "titleFontWeight": "normal", "titleColor": "#000000", "titlePadding": 3, "values": [0, 1, 2], "format": ".1f", "labelFont": "Liberation Sans", "labelFontSize": 13.5, "labelColor": "#111111", "domainColor": "#444444", "tickColor": "#444444", "tickSize": 5}}, "y2": {"field": "b1"},
"fill": {"field": "letter", "type": "nominal", "scale": {"domain": ["A","C","G","T"], "range": ["#1a8c1a","#0000ff","#ffa500","#ff0000"]}, "legend": null}}},
{"transform": [{"filter": "datum.bits >= 0.15"}], "mark": {"type": "point", "filled": true, "opacity": 1, "strokeWidth": 0},
"encoding": {"x": {"field": "col", "type": "ordinal", "axis": {"orient": "top", "title": "CpC", "labels": false, "ticks": false, "domain": false, "titleFont": "Lato", "titleFontSize": 10.5, "titleFontWeight": "bold", "titleColor": "#222222", "titlePadding": 14}},
"y": {"field": "mid", "type": "quantitative", "scale": {"domain": [0, 2], "nice": false}, "axis": {"title": "bits", "titleFont": "Liberation Sans", "titleFontSize": 18, "titleFontWeight": "normal", "titleColor": "#000000", "titlePadding": 3, "values": [0, 1, 2], "format": ".1f", "labelFont": "Liberation Sans", "labelFontSize": 13.5, "labelColor": "#111111", "domainColor": "#444444", "tickColor": "#444444", "tickSize": 5}},
"fill": {"field": "letter", "type": "nominal", "scale": {"domain": ["A","C","G","T"], "range": ["#1a8c1a","#0000ff","#ffa500","#ff0000"]}, "legend": null},
"size": {"field": "bits", "type": "quantitative", "scale": {"type": "pow", "exponent": 2, "domain": [0, 2], "range": [0, 9216]}, "legend": null},
"shape": {"field": "glyph", "type": "nominal", "legend": null, "scale": {"domain": ["AT","CT","GT","TT","AM","CM","GM","TM","AL","CL","GL","TL"], "range": ["M-0.26,1 L-0.065,-1 L0.065,-1 L0.26,1 L0.13,1 L0.078,0.45 L-0.078,0.45 L-0.13,1 Z M0.057,0.15 L0,-0.5 L-0.057,0.15 Z", "M0.199,-0.643 A0.26 1 0 1 0 0.199,0.643 L0.1,0.437 A0.13 0.68 0 1 1 0.1,-0.437 Z", "M0.199,-0.643 A0.26 1 0 1 0 0.26,0 L0.13,0 A0.13 0.68 0 1 1 0.1,-0.437 Z M0.013,0 L0.013,0.28 L0.26,0.28 L0.26,0 Z", "M-0.26,-1 L0.26,-1 L0.26,-0.72 L0.078,-0.72 L0.078,1 L-0.078,1 L-0.078,-0.72 L-0.26,-0.72 Z", "M-0.58,1 L-0.145,-1 L0.145,-1 L0.58,1 L0.29,1 L0.174,0.45 L-0.174,0.45 L-0.29,1 Z M0.128,0.15 L0,-0.5 L-0.128,0.15 Z", "M0.444,-0.643 A0.58 1 0 1 0 0.444,0.643 L0.222,0.437 A0.29 0.68 0 1 1 0.222,-0.437 Z", "M0.444,-0.643 A0.58 1 0 1 0 0.58,0 L0.29,0 A0.29 0.68 0 1 1 0.222,-0.437 Z M0.029,0 L0.029,0.28 L0.58,0.28 L0.58,0 Z", "M-0.58,-1 L0.58,-1 L0.58,-0.66 L0.174,-0.66 L0.174,1 L-0.174,1 L-0.174,-0.66 L-0.58,-0.66 Z", "M-1.5,1 L-0.375,-1 L0.375,-1 L1.5,1 L0.75,1 L0.45,0.45 L-0.45,0.45 L-0.75,1 Z M0.33,0.15 L0,-0.5 L-0.33,0.15 Z", "M1.149,-0.643 A1.5 1 0 1 0 1.149,0.643 L0.575,0.321 A0.75 0.5 0 1 1 0.575,-0.321 Z", "M1.149,-0.643 A1.5 1 0 1 0 1.5,0 L0.75,0 A0.75 0.5 0 1 1 0.575,-0.321 Z M0.075,0 L0.075,0.35 L1.5,0.35 L1.5,0 Z", "M-1.5,-1 L1.5,-1 L1.5,-0.4 L0.45,-0.4 L0.45,1 L-0.45,1 L-0.45,-0.4 L-1.5,-0.4 Z"]}}}}
]}
]
},
{
"data": {"name": "flank"},
"title": {"text": "C", "anchor": "start", "frame": "bounds", "fontSize": 17, "font": "Liberation Sans", "fontWeight": "bold", "color": "#000000", "offset": -16},
"spacing": 13,
"hconcat": [
{"width": 1, "height": 10, "data": {"name": "blank"}, "mark": {"type": "point", "opacity": 0}, "encoding": {}},
{"transform": [{"fold": ["dnmt", "genome"], "as": ["src", "val"]}, {"calculate": "datum.base + (datum.src === 'dnmt' ? '-DNMT3B' : '-Genome')", "as": "series"}],
"spacing": 5,
"vconcat": [
{"spacing": 18, "hconcat": [
{"width": 216, "height": 78, "title": {"text": "CpG", "fontSize": 10.5, "offset": 6},
"transform": [{"filter": "datum.dn === 'CpG'"}],
"mark": {"type": "bar", "strokeWidth": 0.7},
"encoding": {
"x": {"field": "pos", "type": "nominal", "scale": {"domain": ["-4","-3","-2","-1","+1","+2","+3","+4"," "], "paddingInner": 0.08, "paddingOuter": 0.02}, "axis": {"title": "Flank position", "labelAngle": 0, "tickBand": "extent", "labelFontSize": 7.5, "titleFontSize": 9, "titleFontWeight": "normal", "titlePadding": 5, "labelPadding": 3}},
"xOffset": {"field": "series", "type": "nominal", "scale": {"domain": ["G-DNMT3B","G-Genome","A-DNMT3B","A-Genome","T-DNMT3B","T-Genome","C-DNMT3B","C-Genome"], "paddingInner": 0}},
"y": {"field": "val", "type": "quantitative", "scale": {"domain": [0, 2], "nice": false}, "axis": {"values": [0, 0.5, 1, 1.5, 2], "labelExpr": "datum.value % 1 === 0 ? datum.label : ''", "title": "obs/exp", "titleFontSize": 8, "titleFontWeight": "normal", "titlePadding": 3, "labelFontSize": 8}},
"fill": {"field": "series", "type": "nominal", "scale": {"domain": ["G-DNMT3B","G-Genome","A-DNMT3B","A-Genome","T-DNMT3B","T-Genome","C-DNMT3B","C-Genome"], "range": ["#5b8ad6","#dfe8f8","#4cbb4c","#f0fbf0","#ff5a5a","#ffeaea","#a8b39a","#ededed"]}, "legend": {"title": " ", "titleFontSize": 8, "titlePadding": 49, "symbolType": "square", "symbolSize": 42, "labelFontSize": 9.5, "rowPadding": 4.5, "offset": 2, "symbolStrokeWidth": 1}},
"stroke": {"field": "series", "type": "nominal", "scale": {"domain": ["G-DNMT3B","G-Genome","A-DNMT3B","A-Genome","T-DNMT3B","T-Genome","C-DNMT3B","C-Genome"], "range": ["#3a6bc2","#6f96dc","#2f9a2f","#3fbf3f","#e83030","#ff5050","#617d48","#9a9a9a"]}, "legend": {"title": " ", "titleFontSize": 8, "titlePadding": 49, "symbolType": "square", "symbolSize": 42, "labelFontSize": 9.5, "rowPadding": 4.5, "offset": 2, "symbolStrokeWidth": 1}}
}},
{"width": 216, "height": 78, "title": {"text": "CpA", "fontSize": 10.5, "offset": 6},
"transform": [{"filter": "datum.dn === 'CpA'"}],
"mark": {"type": "bar", "strokeWidth": 0.7},
"encoding": {
"x": {"field": "pos", "type": "nominal", "scale": {"domain": ["-4","-3","-2","-1","+1","+2","+3","+4"], "paddingInner": 0.08, "paddingOuter": 0.02}, "axis": {"title": "Flank position", "labelAngle": 0, "tickBand": "extent", "labelFontSize": 7.5, "titleFontSize": 9, "titleFontWeight": "normal", "titlePadding": 5, "labelPadding": 3}},
"xOffset": {"field": "series", "type": "nominal", "scale": {"domain": ["G-DNMT3B","G-Genome","A-DNMT3B","A-Genome","T-DNMT3B","T-Genome","C-DNMT3B","C-Genome"], "paddingInner": 0}},
"y": {"field": "val", "type": "quantitative", "scale": {"domain": [0, 2], "nice": false}, "axis": {"values": [0, 0.5, 1, 1.5, 2], "labelExpr": "datum.value % 1 === 0 ? datum.label : ''", "title": "obs/exp", "titleFontSize": 8, "titleFontWeight": "normal", "titlePadding": 3, "labelFontSize": 8}},
"fill": {"field": "series", "type": "nominal", "scale": {"domain": ["G-DNMT3B","G-Genome","A-DNMT3B","A-Genome","T-DNMT3B","T-Genome","C-DNMT3B","C-Genome"], "range": ["#5b8ad6","#dfe8f8","#4cbb4c","#f0fbf0","#ff5a5a","#ffeaea","#a8b39a","#ededed"]}, "legend": {"title": " ", "titleFontSize": 8, "titlePadding": 49, "symbolType": "square", "symbolSize": 42, "labelFontSize": 9.5, "rowPadding": 4.5, "offset": 2, "symbolStrokeWidth": 1}},
"stroke": {"field": "series", "type": "nominal", "scale": {"domain": ["G-DNMT3B","G-Genome","A-DNMT3B","A-Genome","T-DNMT3B","T-Genome","C-DNMT3B","C-Genome"], "range": ["#3a6bc2","#6f96dc","#2f9a2f","#3fbf3f","#e83030","#ff5050","#617d48","#9a9a9a"]}, "legend": {"title": " ", "titleFontSize": 8, "titlePadding": 49, "symbolType": "square", "symbolSize": 42, "labelFontSize": 9.5, "rowPadding": 4.5, "offset": 2, "symbolStrokeWidth": 1}}
}}
]},
{"spacing": 18, "hconcat": [
{"width": 216, "height": 78, "title": {"text": "CpT", "fontSize": 10.5, "offset": 6},
"transform": [{"filter": "datum.dn === 'CpT'"}],
"mark": {"type": "bar", "strokeWidth": 0.7},
"encoding": {
"x": {"field": "pos", "type": "nominal", "scale": {"domain": ["-4","-3","-2","-1","+1","+2","+3","+4"], "paddingInner": 0.08, "paddingOuter": 0.02}, "axis": {"title": "Flank position", "labelAngle": 0, "tickBand": "extent", "labelFontSize": 7.5, "titleFontSize": 9, "titleFontWeight": "normal", "titlePadding": 5, "labelPadding": 3}},
"xOffset": {"field": "series", "type": "nominal", "scale": {"domain": ["G-DNMT3B","G-Genome","A-DNMT3B","A-Genome","T-DNMT3B","T-Genome","C-DNMT3B","C-Genome"], "paddingInner": 0}},
"y": {"field": "val", "type": "quantitative", "scale": {"domain": [0, 2], "nice": false}, "axis": {"values": [0, 0.5, 1, 1.5, 2], "labelExpr": "datum.value % 1 === 0 ? datum.label : ''", "title": "obs/exp", "titleFontSize": 8, "titleFontWeight": "normal", "titlePadding": 3, "labelFontSize": 8}},
"fill": {"field": "series", "type": "nominal", "scale": {"domain": ["G-DNMT3B","G-Genome","A-DNMT3B","A-Genome","T-DNMT3B","T-Genome","C-DNMT3B","C-Genome"], "range": ["#5b8ad6","#dfe8f8","#4cbb4c","#f0fbf0","#ff5a5a","#ffeaea","#a8b39a","#ededed"]}, "legend": {"title": " ", "titleFontSize": 8, "titlePadding": 49, "symbolType": "square", "symbolSize": 42, "labelFontSize": 9.5, "rowPadding": 4.5, "offset": 2, "symbolStrokeWidth": 1}},
"stroke": {"field": "series", "type": "nominal", "scale": {"domain": ["G-DNMT3B","G-Genome","A-DNMT3B","A-Genome","T-DNMT3B","T-Genome","C-DNMT3B","C-Genome"], "range": ["#3a6bc2","#6f96dc","#2f9a2f","#3fbf3f","#e83030","#ff5050","#617d48","#9a9a9a"]}, "legend": {"title": " ", "titleFontSize": 8, "titlePadding": 49, "symbolType": "square", "symbolSize": 42, "labelFontSize": 9.5, "rowPadding": 4.5, "offset": 2, "symbolStrokeWidth": 1}}
}},
{"width": 216, "height": 78, "title": {"text": "CpC", "fontSize": 10.5, "offset": 6},
"transform": [{"filter": "datum.dn === 'CpC'"}],
"mark": {"type": "bar", "strokeWidth": 0.7},
"encoding": {
"x": {"field": "pos", "type": "nominal", "scale": {"domain": ["-4","-3","-2","-1","+1","+2","+3","+4"], "paddingInner": 0.08, "paddingOuter": 0.02}, "axis": {"title": "Flank position", "labelAngle": 0, "tickBand": "extent", "labelFontSize": 7.5, "titleFontSize": 9, "titleFontWeight": "normal", "titlePadding": 5, "labelPadding": 3}},
"xOffset": {"field": "series", "type": "nominal", "scale": {"domain": ["G-DNMT3B","G-Genome","A-DNMT3B","A-Genome","T-DNMT3B","T-Genome","C-DNMT3B","C-Genome"], "paddingInner": 0}},
"y": {"field": "val", "type": "quantitative", "scale": {"domain": [0, 2.5], "nice": false}, "axis": {"values": [0, 0.5, 1, 1.5, 2, 2.5], "labelExpr": "datum.value % 1 === 0 ? datum.label : ''", "title": "obs/exp", "titleFontSize": 8, "titleFontWeight": "normal", "titlePadding": 3, "labelFontSize": 8}},
"fill": {"field": "series", "type": "nominal", "scale": {"domain": ["G-DNMT3B","G-Genome","A-DNMT3B","A-Genome","T-DNMT3B","T-Genome","C-DNMT3B","C-Genome"], "range": ["#5b8ad6","#dfe8f8","#4cbb4c","#f0fbf0","#ff5a5a","#ffeaea","#a8b39a","#ededed"]}, "legend": {"title": " ", "titleFontSize": 8, "titlePadding": 49, "symbolType": "square", "symbolSize": 42, "labelFontSize": 9.5, "rowPadding": 4.5, "offset": 2, "symbolStrokeWidth": 1}},
"stroke": {"field": "series", "type": "nominal", "scale": {"domain": ["G-DNMT3B","G-Genome","A-DNMT3B","A-Genome","T-DNMT3B","T-Genome","C-DNMT3B","C-Genome"], "range": ["#3a6bc2","#6f96dc","#2f9a2f","#3fbf3f","#e83030","#ff5050","#617d48","#9a9a9a"]}, "legend": {"title": " ", "titleFontSize": 8, "titlePadding": 49, "symbolType": "square", "symbolSize": 42, "labelFontSize": 9.5, "rowPadding": 4.5, "offset": 2, "symbolStrokeWidth": 1}}
}}
]}
]}
]
},
{
"data": {"name": "flank"},
"title": {"text": "D", "anchor": "start", "frame": "bounds", "fontSize": 17, "font": "Liberation Sans", "fontWeight": "bold", "color": "#000000", "offset": -8},
"spacing": 7,
"hconcat": [
{"width": 9, "height": 10, "data": {"name": "blank"}, "mark": {"type": "point", "opacity": 0}, "encoding": {}},
{"width": 112, "height": 95, "title": {"text": "CpG", "fontSize": 10.5},
"transform": [{"filter": "datum.dn === 'CpG'"}],
"encoding": {
"x": {"field": "dnmt", "type": "quantitative", "scale": {"domain": [0, 1.5], "nice": false}, "axis": {"values": [0, 0.5, 1, 1.5], "format": "~g", "title": "DNMT3B obs/exp", "titleFontSize": 8.5, "titleFontWeight": "bold", "titlePadding": 4, "labelFontSize": 7.5, "labelPadding": 2}},
"y": {"field": "genome", "type": "quantitative", "scale": {"domain": [0, 1.6], "nice": false}, "axis": {"values": [0, 0.2, 0.4, 0.6, 0.8, 1, 1.2, 1.4, 1.6], "format": "~g", "title": "Genome obs/exp", "titleFontSize": 8, "titleFontWeight": "bold", "titlePadding": 1, "labelFontSize": 7.5, "labelPadding": 2}}
},
"layer": [
{"mark": {"type": "circle", "size": 26, "fill": "#7a9de0", "stroke": "#4472c4", "strokeWidth": 0.8, "opacity": 1}}
]},
{"width": 98, "height": 95, "title": {"text": "CpA", "fontSize": 10.5},
"transform": [{"filter": "datum.dn === 'CpA'"}],
"encoding": {
"x": {"field": "dnmt", "type": "quantitative", "scale": {"domain": [0, 1.9], "nice": false}, "axis": {"values": [0, 0.5, 1, 1.5], "format": "~g", "title": "DNMT3B obs/exp", "titleFontSize": 8.5, "titleFontWeight": "bold", "titlePadding": 4, "labelFontSize": 7.5, "labelPadding": 2}},
"y": {"field": "genome", "type": "quantitative", "scale": {"domain": [0, 2.5], "nice": false}, "axis": {"values": [0, 0.5, 1, 1.5, 2, 2.5], "format": "~g", "title": "Genome obs/exp", "titleFontSize": 8, "titleFontWeight": "bold", "titlePadding": 1, "labelFontSize": 7.5, "labelPadding": 2}}
},
"layer": [
{"mark": {"type": "circle", "size": 26, "fill": "#9dc77a", "stroke": "#70ad47", "strokeWidth": 0.8, "opacity": 1}},
{"transform": [{"regression": "genome", "on": "dnmt"}], "mark": {"type": "line", "stroke": "#70ad47", "strokeWidth": 1}}
]},
{"width": 100, "height": 95, "title": {"text": "CpT", "fontSize": 10.5},
"transform": [{"filter": "datum.dn === 'CpT'"}],
"encoding": {
"x": {"field": "dnmt", "type": "quantitative", "scale": {"domain": [0, 1.9], "nice": false}, "axis": {"values": [0, 0.5, 1, 1.5], "format": "~g", "title": "DNMT3B obs/exp", "titleFontSize": 8.5, "titleFontWeight": "bold", "titlePadding": 4, "labelFontSize": 7.5, "labelPadding": 2}},
"y": {"field": "genome", "type": "quantitative", "scale": {"domain": [0, 2.5], "nice": false}, "axis": {"values": [0, 0.5, 1, 1.5, 2, 2.5], "format": "~g", "title": "Genome obs/exp", "titleFontSize": 8, "titleFontWeight": "bold", "titlePadding": 1, "labelFontSize": 7.5, "labelPadding": 2}}
},
"layer": [
{"mark": {"type": "circle", "size": 26, "fill": "#ff9a9a", "stroke": "#ff2020", "strokeWidth": 0.8, "opacity": 1}},
{"transform": [{"regression": "genome", "on": "dnmt"}], "mark": {"type": "line", "stroke": "#ff4d4d", "strokeWidth": 1}}
]},
{"width": 111, "height": 95, "title": {"text": "CpC", "fontSize": 10.5},
"transform": [{"filter": "datum.dn === 'CpC'"}],
"encoding": {
"x": {"field": "dnmt", "type": "quantitative", "scale": {"domain": [0, 2], "nice": false}, "axis": {"values": [0, 0.5, 1, 1.5, 2], "format": "~g", "title": "DNMT3B obs/exp", "titleFontSize": 8.5, "titleFontWeight": "bold", "titlePadding": 4, "labelFontSize": 7.5, "labelPadding": 2}},
"y": {"field": "genome", "type": "quantitative", "scale": {"domain": [0, 2.5], "nice": false}, "axis": {"values": [0, 0.5, 1, 1.5, 2, 2.5], "format": "~g", "title": "Genome obs/exp", "titleFontSize": 8, "titleFontWeight": "bold", "titlePadding": 1, "labelFontSize": 7.5, "labelPadding": 2}}
},
"layer": [
{"mark": {"type": "circle", "size": 26, "fill": "#b8b8b8", "stroke": "#8c8c8c", "strokeWidth": 0.8, "opacity": 1}},
{"transform": [{"regression": "genome", "on": "dnmt"}], "mark": {"type": "line", "stroke": "#8c8c8c", "strokeWidth": 1}}
]}
]
}
]
}
